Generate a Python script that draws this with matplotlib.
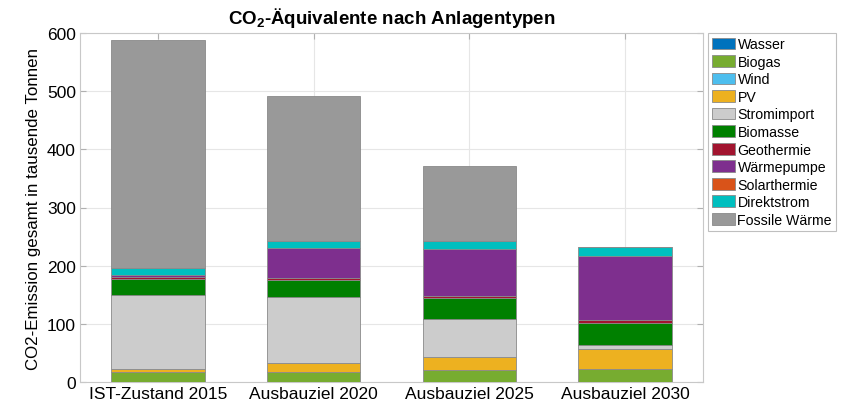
import matplotlib
matplotlib.use("Agg")
import matplotlib.pyplot as plt
import numpy as np

plt.rcParams['font.family'] = ['Liberation Sans', 'DejaVu Sans']
plt.rcParams['mathtext.fontset'] = 'custom'
plt.rcParams['mathtext.rm'] = 'Liberation Sans'
plt.rcParams['mathtext.bf'] = 'Liberation Sans:bold'

categories = ['IST-Zustand 2015', 'Ausbauziel 2020', 'Ausbauziel 2025', 'Ausbauziel 2030']

# CO2-Äquivalente in tausend Tonnen, je Anlagentyp
wasser = [0, 0, 0, 0]
biogas = [17, 18, 21, 23]
wind = [0, 0, 0, 0]
pv = [5, 14, 22, 33]
stromimport = [128, 114, 66, 7]
biomasse = [27, 29, 35, 39]
geothermie = [3, 4, 4, 5]
waermepumpe = [4, 51, 81, 110]
solarthermie = [0, 0, 0, 0]
direktstrom = [12, 13, 13, 15]
fossile = [392, 248, 129, 0]

series = [
    ('Wasser', wasser, '#0072BD'),
    ('Biogas', biogas, '#77AC30'),
    ('Wind', wind, '#4DBEEE'),
    ('PV', pv, '#EDB120'),
    ('Stromimport', stromimport, '#CCCCCC'),
    ('Biomasse', biomasse, '#008000'),
    ('Geothermie', geothermie, '#A2142F'),
    ('Wärmepumpe', waermepumpe, '#7E2F8E'),
    ('Solarthermie', solarthermie, '#D95319'),
    ('Direktstrom', direktstrom, '#00BFBF'),
    ('Fossile Wärme', fossile, '#999999'),
]

fig = plt.figure(figsize=(8.51, 4.06), dpi=100)
ax = fig.add_axes([80 / 851, 23 / 406, 623 / 851, 349 / 406])

x = np.arange(1, len(categories) + 1)
bottom = np.zeros(len(categories))
for name, vals, col in series:
    vals = np.array(vals, dtype=float)
    ax.bar(x, vals, 0.6, bottom=bottom, color=col, edgecolor='#8a8a8a',
           linewidth=0.6, label=name, zorder=3)
    bottom += vals

ax.set_xlim(0.5, 4.5)
ax.set_ylim(0, 600)
ax.set_yticks(range(0, 601, 100))
ax.set_xticks(x)
ax.set_xticklabels(categories)
ax.tick_params(axis='both', labelsize=12.5, direction='in', length=4,
               color='#b0b0b0', top=True, right=True, pad=3)
ax.grid(True, color='#e6e6e6', linewidth=0.8, zorder=0)
for s in ax.spines.values():
    s.set_color('#c8c8c8')

ax.set_ylabel('CO2-Emission gesamt in tausende Tonnen', fontsize=12.2, labelpad=4)
ax.set_title(r'$\mathbf{CO_2}$-Äquivalente nach Anlagentypen', fontsize=13.5,
             fontweight='bold', pad=7)

leg = ax.legend(loc='upper left', bbox_to_anchor=(1.003, 1.008), fontsize=10.2,
                frameon=True, fancybox=False, edgecolor='#b0b0b0',
                handlelength=1.6, handleheight=0.9, handletextpad=0.2,
                labelspacing=0.25, borderpad=0.3, borderaxespad=0.2)
leg.get_frame().set_linewidth(0.8)

fig.savefig('out.png', dpi=100)
